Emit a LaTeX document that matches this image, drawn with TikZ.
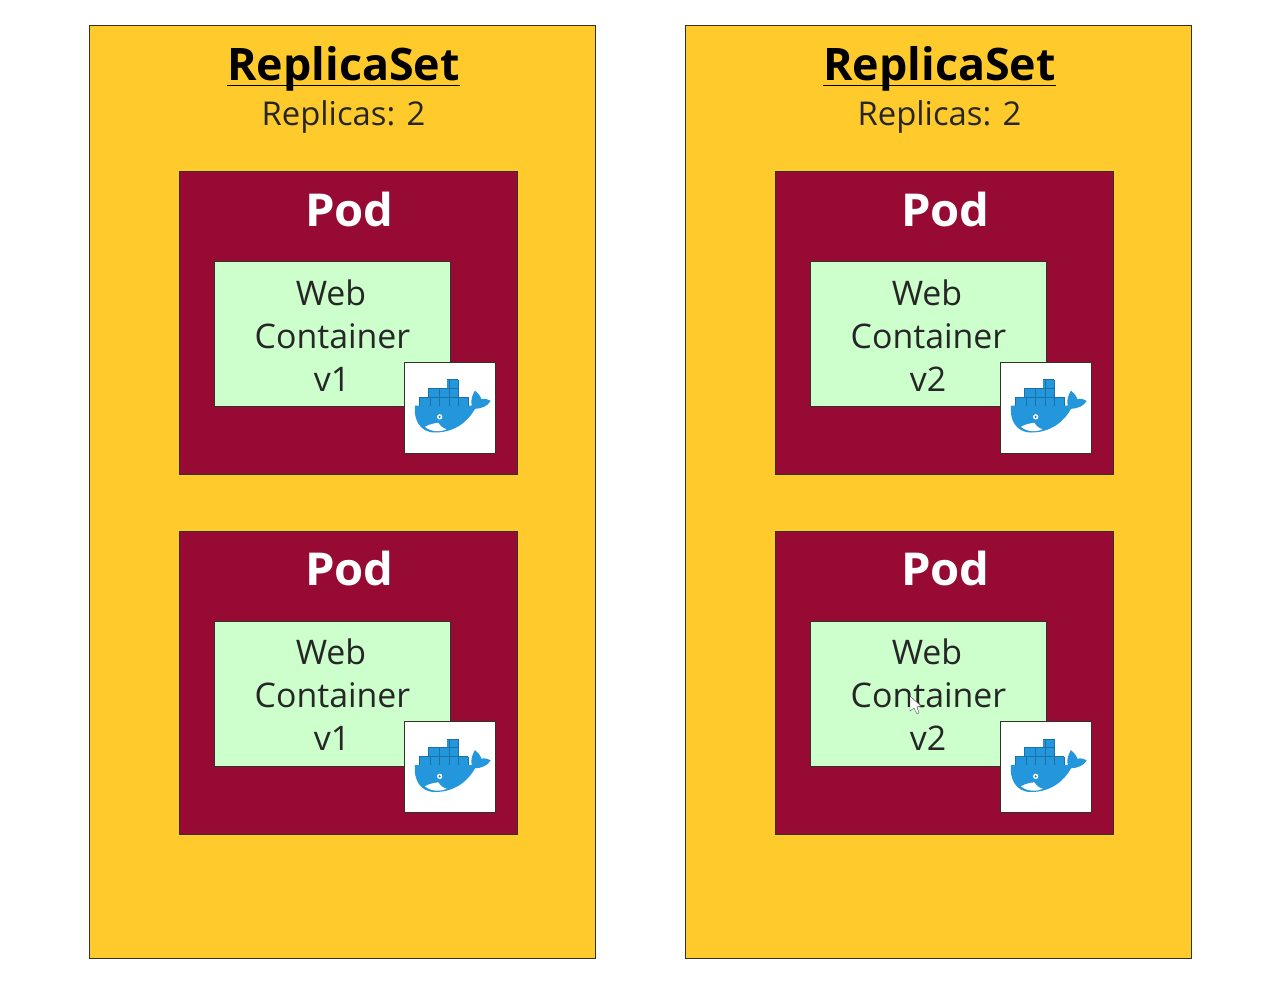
\documentclass[tikz,border=0pt]{standalone}
\usepackage{fontspec}
\setmainfont{Open Sans}
\newfontfamily\podfont[FakeStretch=1.04]{Open Sans}
\definecolor{setyellow}{RGB}{255,202,44}
\definecolor{podred}{RGB}{150,10,52}
\definecolor{contgreen}{RGB}{204,255,204}
\definecolor{whaleblue}{RGB}{36,150,220}
\definecolor{edgegrey}{RGB}{50,50,40}
\newcommand{\fs}[1]{\fontsize{#1}{#1}\selectfont}
\tikzset{
  x=0.75pt,y=-0.75pt,
  setbox/.style={draw=edgegrey,line width=0.7pt,fill=setyellow},
  podbox/.style={draw=edgegrey,line width=0.7pt,fill=podred},
  contbox/.style={draw=edgegrey,line width=0.6pt,fill=contgreen},
  iconbox/.style={draw=edgegrey,line width=0.7pt,fill=white},
  settitle/.style={anchor=base,inner sep=0pt,font=\fs{33.6}\bfseries},
  setsub/.style={anchor=base,inner sep=0pt,text=black!85,font=\fs{24.6}},
  podtitle/.style={anchor=base,inner sep=0pt,text=white,font=\podfont\fs{34}\bfseries},
  conttext/.style={anchor=base,inner sep=0pt,text=black!85,font=\fs{25.4}},
}
% one pod: #1 name, #2 left x, #3 top y, #4 version
\newcommand{\podblock}[4]{%
  \draw[podbox] (#2-0.3,#3-0.3) rectangle ++(337.7,303.2);
  \node[podtitle] (#1title) at (#2+169.5,#3+54) {Pod};
  \draw[contbox] (#2+34.2,#3+89.7) rectangle ++(235.8,144.8);
  \node[conttext] (#1web) at (#2+151,#3+133) {Web};
  \node[conttext] (#1cont) at (#2+152.5,#3+176) {Container};
  \node[conttext] (#1ver) at (#2+152,#3+219) {#4};
  \draw[iconbox] (#2+224.7,#3+190.2) rectangle ++(91,91);
  \begin{scope}[shift={(#2+225,#3+190.5)},x=0.25pt,y=-0.25pt]
    \fill[whaleblue] (30,129) -- (200,129)
      .. controls (196,111) and (203,96) .. (210,84)
      .. controls (218,91) and (226,99) .. (229,110)
      .. controls (240,108) and (250,110) .. (257,115)
      .. controls (248,132) and (228,138) .. (210,139)
      .. controls (190,176) and (150,210) .. (90,210)
      .. controls (45,210) and (25,171) .. (30,129) -- cycle;
    \fill[white] (60,193) .. controls (75,184) and (90,182) .. (100,181)
      .. controls (106,191) and (115,198) .. (125,200)
      .. controls (105,210) and (78,208) .. (60,193) -- cycle;
    \fill[white] (104,163) circle (8);
    \fill[whaleblue!80!black] (104,163) circle (3.5);
    \fill[whaleblue] (43,104) rectangle (190,130);
    \fill[whaleblue] (71,76) rectangle (160,105);
    \fill[whaleblue] (127,51) rectangle (160,77);
    \draw[whaleblue!75!black,line width=0.3pt] (43,104) -- (190,104) (71,76) -- (160,76) (127,51) -- (160,51)
      (43,104) -- (43,129) (75,104) -- (75,129) (104,76) -- (104,129) (132,51) -- (132,129) (160,51) -- (160,129) (190,104) -- (190,129) (71,76) -- (71,104);
  \end{scope}
}
% one replica set: #1 name, #2 left x, #3 version
\newcommand{\setblock}[3]{%
  \draw[setbox] (#2-0.3,25.7) rectangle ++(505.7,932.7);
  \node[settitle] (#1title) at (#2+253.5,80) {ReplicaSet};
  \draw[line width=0.75pt] ([yshift=-4.4pt]#1title.base west) -- ([yshift=-4.4pt]#1title.base east);
  \node[setsub] (#1sub) at (#2+253.5,125) {Replicas: 2};
  \podblock{#1a}{#2+90}{172}{#3}
  \podblock{#1b}{#2+90}{531.5}{#3}
}
\begin{document}
\begin{tikzpicture}
  \useasboundingbox (0,0) rectangle (1283,983);
  \fill[white] (0,0) rectangle (1283,983);
  \setblock{l}{90}{v1}
  \setblock{r}{686}{v2}
  % mouse pointer
  \draw[fill=white,draw=black!70,line width=0.3pt] (910,696) -- (910,711) -- (914,708) -- (917,714) -- (919,713) -- (917,707) -- (921,706) -- cycle;
\end{tikzpicture}
\end{document}
